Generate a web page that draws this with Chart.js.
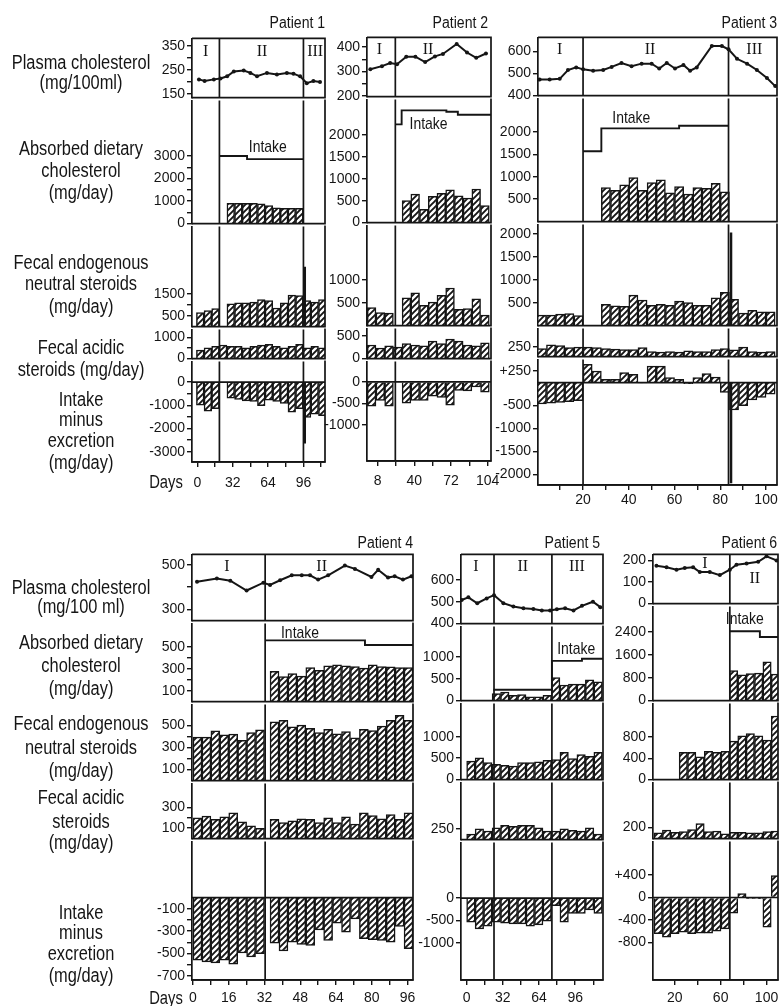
<!DOCTYPE html>
<html><head><meta charset="utf-8">
<script src="https://cdn.jsdelivr.net/npm/chart.js@4.4.1/dist/chart.umd.min.js"></script>
<style>
html,body{margin:0;padding:0;background:#fff;}
#root{position:relative;width:779px;height:1006px;overflow:hidden;background:#fff}
#root canvas{position:absolute}
.lab{position:absolute;font-family:"Liberation Sans",Arial,sans-serif;font-size:20px;line-height:20px;color:#151515;white-space:nowrap;transform:translate(-50%,-50%) scaleX(.82);}
.ttl{position:absolute;font-family:"Liberation Sans",Arial,sans-serif;font-size:16px;line-height:16px;color:#151515;white-space:nowrap;transform-origin:100% 50%;transform:translateY(-50%) scaleX(.88);}
</style></head><body><div id="root"></div>
<script>
// ================= DATA =================
// ---- Patient 1 ----
const p1Days = [2.65, 9.55, 16.45, 23.35, 30.25, 37.15, 44.05, 50.95, 57.85, 64.75, 71.65, 78.55, 85.45, 92.35, 99.25, 106.15, 113.05];
const p1Absorbed = [null, null, null, null, 900, 900, 900, 900, 880, 800, 700, 680, 680, 680, null, null, null];
const p1Neutral = [650, 740, 830, null, 1050, 1100, 1100, 1130, 1250, 1200, 860, 1100, 1460, 1430, 1200, 1130, 1250];
const p1Acidic = [400, 510, 580, 650, 580, 580, 510, 580, 640, 680, 580, 510, 580, 680, 510, 580, 510];
const p1Balance = [-1000, -1250, -1150, null, -690, -750, -810, -830, -1020, -780, -830, -920, -1300, -1150, -1520, -1380, -1450];
const p1PlasmaDays = [1.5, 6.6, 15, 21, 27, 33, 42, 48, 54, 63, 72, 81, 87, 93, 99, 105, 111];
const p1Plasma = [210, 203, 210, 214, 223, 243, 247, 237, 223, 237, 230, 237, 234, 223, 194, 203, 199];
const p1IntakeDays = [20, 45, 96];
const p1Intake = [3000, 2860, 2860];
const p1SpikeDays = [97.2, 97.2];
const p1SpikeNeutral = [0, 2770];
const p1SpikeBalance = [0, -2650];
const p1XTicks = [0, 16, 32, 48, 64, 80, 96, 112];
const p1XLabels = ['0', '', '32', '', '64', '', '96', ''];
const p1PlasmaTicks = [150, 200, 250, 300, 350], p1PlasmaLabels = ['150', '', '250', '', '350'];
const p1AbsorbedTicks = [0, 500, 1000, 1500, 2000, 2500, 3000], p1AbsorbedLabels = ['0', '', '1000', '', '2000', '', '3000'];
const p1NeutralTicks = [500, 1000, 1500], p1NeutralLabels = ['500', '', '1500'];
const p1AcidicTicks = [0, 500, 1000], p1AcidicLabels = ['0', '', '1000'];
const p1BalanceTicks = [0, -500, -1000, -1500, -2000, -2500, -3000], p1BalanceLabels = ['0', '', '-1000', '', '-2000', '', '-3000'];

// ---- Patient 2 ----
const p2Days = [2.8, 10.4, 18, 25.6, 33.2, 40.8, 48.4, 56, 63.6, 71.2, 78.8, 86.4, 94, 101.6];
const p2Absorbed = [null, null, null, null, 502, 651, 302, 600, 667, 747, 613, 562, 762, 391];
const p2Neutral = [394, 287, 272, null, 608, 715, 443, 514, 660, 822, 357, 372, 587, 229];
const p2Acidic = [300, 233, 280, 253, 333, 300, 280, 387, 333, 433, 387, 300, 280, 350];
const p2Balance = [-560, -430, -560, null, -490, -430, -430, -330, -360, -540, -200, -210, -120, -240];
const p2PlasmaDays = [1.7, 11.8, 19, 25, 33, 41, 49.5, 58, 65, 77, 86, 94, 102.5];
const p2Plasma = [309, 322, 335, 330, 361, 361, 339, 362, 372, 413, 378, 356, 374];
const p2IntakeDays = [23.5, 29, 68, 78, 106.9];
const p2Intake = [2240, 2560, 2530, 2460, 2460];
const p2XTicks = [8, 24, 40, 56, 72, 88, 104];
const p2XLabels = ['8', '', '40', '', '72', '', '104'];
const p2PlasmaTicks = [200, 250, 300, 350, 400], p2PlasmaLabels = ['200', '', '300', '', '400'];
const p2AbsorbedTicks = [0, 500, 1000, 1500, 2000], p2AbsorbedLabels = ['0', '500', '1000', '1500', '2000'];
const p2NeutralTicks = [500, 1000], p2NeutralLabels = ['500', '1000'];
const p2AcidicTicks = [0, 500], p2AcidicLabels = ['0', '500'];
const p2BalanceTicks = [0, -500, -1000], p2BalanceLabels = ['0', '-500', '-1000'];

// ---- Patient 3 ----
const p3Days = [2, 6, 10, 14, 18, 22, 26, 30, 34, 38, 42, 46, 50, 54, 58, 62, 66, 70, 74, 78, 82, 86, 90, 94, 98, 102];
const p3Absorbed = [null, null, null, null, null, null, null, 760, 700, 820, 980, 700, 870, 930, 640, 780, 615, 760, 740, 855, 665, null, null, null, null, null];
const p3Neutral = [230, 230, 250, 260, 220, null, null, 465, 430, 420, 665, 557, 443, 465, 443, 535, 500, 443, 443, 608, 728, 572, 272, 336, 300, 300];
const p3Acidic = [205, 302, 280, 227, 240, 240, 227, 205, 190, 180, 180, 227, 127, 114, 127, 114, 150, 127, 127, 180, 205, 170, 240, 127, 114, 127];
const p3Balance = [-467, -450, -430, -415, -395, 397, 253, 72, 72, 216, 180, -10, 360, 360, 108, 72, -22, 108, 194, 122, -216, -597, -503, -380, -324, -252];
const p3PlasmaDays = [1, 5.4, 9.8, 13.4, 17, 20, 24.4, 28.8, 32.5, 36.8, 41.2, 45.6, 50, 53.3, 56.6, 60.2, 63.9, 66.8, 69.7, 76.3, 80.7, 83.6, 87.3, 91.7, 96, 100.4, 104];
const p3Plasma = [473, 473, 476, 516, 528, 519, 513, 516, 530, 548, 533, 545, 545, 523, 548, 523, 539, 513, 528, 625, 625, 610, 567, 545, 516, 480, 443];
const p3IntakeDays = [20, 28, 62, 83.6];
const p3Intake = [1570, 2080, 2140, 2140];
const p3SpikeDays = [84.7, 84.7];
const p3SpikeNeutral = [0, 2035];
const p3SpikeBalance = [0, -2195];
const p3XTicks = [10, 20, 30, 40, 50, 60, 70, 80, 90, 100];
const p3XLabels = ['', '20', '', '40', '', '60', '', '80', '', '100'];
const p3PlasmaTicks = [400, 500, 600], p3PlasmaLabels = ['400', '500', '600'];
const p3AbsorbedTicks = [500, 1000, 1500, 2000], p3AbsorbedLabels = ['500', '1000', '1500', '2000'];
const p3NeutralTicks = [500, 1000, 1500, 2000], p3NeutralLabels = ['500', '1000', '1500', '2000'];
const p3AcidicTicks = [250], p3AcidicLabels = ['250'];
const p3BalanceTicks = [250, -500, -1000, -1500, -2000], p3BalanceLabels = ['+250', '-500', '-1000', '-1500', '-2000'];

// ---- Patient 4 ----
const p4Days = [2, 6, 10, 14, 18, 22, 26, 30, 36.5, 40.5, 44.5, 48.5, 52.5, 56.5, 60.5, 64.5, 68.5, 72.5, 76.5, 80.5, 84.5, 88.5, 92.5, 96.5];
const p4Absorbed = [null, null, null, null, null, null, null, null, 277, 228, 257, 233, 312, 286, 327, 336, 327, 321, 307, 336, 321, 318, 312, 312];
const p4Neutral = [396, 396, 452, 417, 423, 367, 437, 461, 534, 549, 490, 505, 476, 437, 467, 425, 446, 388, 467, 455, 496, 549, 593, 549];
const p4Acidic = [200, 216, 185, 210, 247, 160, 123, 99, 185, 154, 170, 191, 185, 154, 200, 154, 210, 139, 247, 222, 191, 231, 185, 247];
const p4Balance = [-560, -575, -584, -560, -596, -496, -531, -501, -407, -478, -398, -419, -428, -289, -383, -230, -310, -191, -368, -377, -383, -398, -259, -457];
const p4PlasmaDays = [1.8, 10.7, 16.7, 24, 31.5, 34.5, 39, 44.2, 48.7, 52.4, 56, 60.5, 68, 72.5, 79.9, 82.9, 87.3, 90.3, 94, 97.8];
const p4Plasma = [423, 438, 428, 384, 419, 409, 430, 452, 452, 452, 433, 452, 496, 481, 445, 477, 442, 448, 433, 448];
const p4IntakeDays = [32.3, 77, 98.5];
const p4Intake = [561, 518, 518];
const p4XTicks = [0, 8, 16, 24, 32, 40, 48, 56, 64, 72, 80, 88, 96];
const p4XLabels = ['0', '', '16', '', '32', '', '48', '', '64', '', '80', '', '96'];
const p4PlasmaTicks = [300, 400, 500], p4PlasmaLabels = ['300', '', '500'];
const p4AbsorbedTicks = [100, 200, 300, 400, 500], p4AbsorbedLabels = ['100', '', '300', '', '500'];
const p4NeutralTicks = [100, 200, 300, 400, 500], p4NeutralLabels = ['100', '', '300', '', '500'];
const p4AcidicTicks = [100, 200, 300], p4AcidicLabels = ['100', '', '300'];
const p4BalanceTicks = [-100, -200, -300, -400, -500, -600, -700], p4BalanceLabels = ['-100', '', '-300', '', '-500', '', '-700'];

// ---- Patient 5 ----
const p5Days = [3.75, 11.25, 18.75, 26.25, 33.75, 41.25, 48.75, 56.25, 63.75, 71.25, 78.75, 86.25, 93.75, 101.25, 108.75, 116.25];
const p5Absorbed = [null, null, null, 160, 197, 123, 138, 88, 88, 123, 526, 357, 379, 379, 474, 430];
const p5Neutral = [432, 509, 395, 357, 334, 318, 395, 395, 418, 448, 470, 636, 493, 584, 545, 636];
const p5Acidic = [125, 250, 197, 272, 329, 307, 329, 329, 272, 197, 197, 250, 211, 197, 272, 125];
const p5Balance = [-537, -683, -625, -537, -559, -573, -573, -625, -595, -515, -170, -537, -339, -339, -264, -339];
const p5PlasmaDays = [-4.4, 1.5, 9.4, 17.7, 24.2, 32.5, 41.3, 50.2, 59, 66.5, 73.8, 79.8, 87.1, 94.5, 102, 111.7, 118.2];
const p5Plasma = [508, 520, 493, 515, 530, 493, 478, 470, 467, 460, 460, 466, 470, 460, 481, 500, 475];
const p5IntakeDays = [23.6, 75.4, 102, 120.6];
const p5Intake = [250, 910, 960, 960];
const p5XTicks = [0, 16, 32, 48, 64, 80, 96, 112];
const p5XLabels = ['0', '', '32', '', '64', '', '96', ''];
const p5PlasmaTicks = [400, 500, 600], p5PlasmaLabels = ['400', '500', '600'];
const p5AbsorbedTicks = [0, 500, 1000], p5AbsorbedLabels = ['0', '500', '1000'];
const p5NeutralTicks = [0, 500, 1000], p5NeutralLabels = ['0', '500', '1000'];
const p5AcidicTicks = [250], p5AcidicLabels = ['250'];
const p5BalanceTicks = [0, -500, -1000], p5BalanceLabels = ['0', '-500', '-1000'];

// ---- Patient 6 ----
const p6Days = [5.55, 12.85, 20.15, 27.45, 34.75, 42.05, 49.35, 56.65, 63.95, 71.25, 78.55, 85.85, 93.15, 100.45, 107.75];
const p6Absorbed = [null, null, null, null, null, null, null, null, null, 1050, 900, 950, 960, 1360, 930];
const p6Neutral = [null, null, null, 511, 511, 428, 529, 511, 529, 720, 820, 860, 820, 740, 1190];
const p6Acidic = [103, 154, 114, 125, 160, 268, 125, 137, 85, 114, 114, 103, 103, 125, 137];
const p6Balance = [-648, -708, -648, -619, -648, -636, -636, -602, -560, -280, 70, -20, -20, -530, 390];
const p6PlasmaDays = [4, 12.8, 21.5, 28.7, 36, 41.8, 50.5, 59.3, 68, 73.8, 82.6, 92.7, 100, 108.7];
const p6Plasma = [175, 168, 157, 165, 168, 146, 146, 132, 157, 180, 186, 194, 219, 200];
const p6IntakeDays = [68, 94.2, 110.8];
const p6Intake = [2430, 2230, 2230];
const p6XTicks = [20, 40, 60, 80, 100];
const p6XLabels = ['20', '', '60', '', '100'];
const p6PlasmaTicks = [0, 100, 200], p6PlasmaLabels = ['0', '100', '200'];
const p6AbsorbedTicks = [0, 800, 1600, 2400], p6AbsorbedLabels = ['0', '800', '1600', '2400'];
const p6NeutralTicks = [0, 400, 800], p6NeutralLabels = ['0', '400', '800'];
const p6AcidicTicks = [200], p6AcidicLabels = ['200'];
const p6BalanceTicks = [400, 0, -400, -800], p6BalanceLabels = ['+400', '0', '-400', '-800'];

// ================= LAYOUT =================
const LW = 60, PADT = 9, PADB = 9, PADR = 16, XH = 30;
const INK = '#151515';
const FONTNAME = '"Liberation Sans", Arial, sans-serif';
const root = document.getElementById('root');

const PATIENTS = [
  { title: 'Patient 1', titleY: 23, titleR: 325, L: 192, R: 325, xMin: -4.8, xMax: 115.5, phases: [20, 96], xPad: 8,
    xTicks: p1XTicks, xLabels: p1XLabels,
    rows: { plasma: [37, 99, 134, 381], absorbed: [99, 225, 0, 5467], neutral: [225, 328, 0, 4628], acidic: [328, 360, 0, 1391], balance: [360, 462, -3447, 894] },
    yTicks: { plasma: [p1PlasmaTicks, p1PlasmaLabels], absorbed: [p1AbsorbedTicks, p1AbsorbedLabels], neutral: [p1NeutralTicks, p1NeutralLabels], acidic: [p1AcidicTicks, p1AcidicLabels], balance: [p1BalanceTicks, p1BalanceLabels] },
    roman: [['I', 7.5, 13], ['II', 58.6, 13], ['III', 106.6, 13]], intakeAt: [63.8, 3400],
    d: { days: p1Days, absorbed: p1Absorbed, neutral: p1Neutral, acidic: p1Acidic, balance: p1Balance, plasmaDays: p1PlasmaDays, plasma: p1Plasma, intakeDays: p1IntakeDays, intake: p1Intake, spikeDays: p1SpikeDays, spikeNeutral: p1SpikeNeutral, spikeBalance: p1SpikeBalance } },
  { title: 'Patient 2', titleY: 23, titleR: 488, L: 367, R: 491, xMin: -1.2, xMax: 106.9, phases: [23.5], xPad: 7,
    xTicks: p2XTicks, xLabels: p2XLabels,
    rows: { plasma: [36, 98, 197, 440], absorbed: [98, 224, 0, 2810], neutral: [224, 327, 0, 2190], acidic: [327, 360, 0, 666], balance: [360, 461, -1825, 470] },
    yTicks: { plasma: [p2PlasmaTicks, p2PlasmaLabels], absorbed: [p2AbsorbedTicks, p2AbsorbedLabels], neutral: [p2NeutralTicks, p2NeutralLabels], acidic: [p2AcidicTicks, p2AcidicLabels], balance: [p2BalanceTicks, p2BalanceLabels] },
    roman: [['I', 9.7, 12], ['II', 52, 12]], intakeAt: [52.5, 2250],
    d: { days: p2Days, absorbed: p2Absorbed, neutral: p2Neutral, acidic: p2Acidic, balance: p2Balance, plasmaDays: p2PlasmaDays, plasma: p2Plasma, intakeDays: p2IntakeDays, intake: p2Intake } },
  { title: 'Patient 3', titleY: 23, titleR: 777, L: 538, R: 777, xMin: 0.3, xMax: 104.8, phases: [20, 83.6], xPad: 2,
    xTicks: p3XTicks, xLabels: p3XLabels,
    rows: { plasma: [36, 97, 400, 664], absorbed: [97, 223, 0, 2750], neutral: [223, 327, 0, 2210], acidic: [327, 358, 0, 718], balance: [358, 485, -2231, 505] },
    yTicks: { plasma: [p3PlasmaTicks, p3PlasmaLabels], absorbed: [p3AbsorbedTicks, p3AbsorbedLabels], neutral: [p3NeutralTicks, p3NeutralLabels], acidic: [p3AcidicTicks, p3AcidicLabels], balance: [p3BalanceTicks, p3BalanceLabels] },
    roman: [['I', 9.8, 12], ['II', 49.3, 12], ['III', 94.9, 12]], intakeAt: [41.1, 2310],
    d: { days: p3Days, absorbed: p3Absorbed, neutral: p3Neutral, acidic: p3Acidic, balance: p3Balance, plasmaDays: p3PlasmaDays, plasma: p3Plasma, intakeDays: p3IntakeDays, intake: p3Intake, spikeDays: p3SpikeDays, spikeNeutral: p3SpikeNeutral, spikeBalance: p3SpikeBalance } },
  { title: 'Patient 4', titleY: 543, titleR: 413, L: 192, R: 413, xMin: -0.45, xMax: 98.5, phases: [32.3], xPad: 5,
    xTicks: p4XTicks, xLabels: p4XLabels,
    rows: { plasma: [553, 622, 249, 546], absorbed: [622, 703, 0, 716], neutral: [703, 782, 0, 693], acidic: [782, 840, 0, 530], balance: [840, 980, -737, 502] },
    yTicks: { plasma: [p4PlasmaTicks, p4PlasmaLabels], absorbed: [p4AbsorbedTicks, p4AbsorbedLabels], neutral: [p4NeutralTicks, p4NeutralLabels], acidic: [p4AcidicTicks, p4AcidicLabels], balance: [p4BalanceTicks, p4BalanceLabels] },
    roman: [['I', 15.2, 12], ['II', 57.6, 12]], intakeAt: [47.9, 628],
    d: { days: p4Days, absorbed: p4Absorbed, neutral: p4Neutral, acidic: p4Acidic, balance: p4Balance, plasmaDays: p4PlasmaDays, plasma: p4Plasma, intakeDays: p4IntakeDays, intake: p4Intake } },
  { title: 'Patient 5', titleY: 543, titleR: 600, L: 461, R: 603, xMin: -5, xMax: 120.6, phases: [24.2, 75.4], xPad: 5,
    xTicks: p5XTicks, xLabels: p5XLabels,
    rows: { plasma: [553, 625, 400, 716], absorbed: [625, 702, 0, 1700], neutral: [702, 781, 0, 1780], acidic: [781, 841, 0, 1316], balance: [841, 980, -1822, 1240] },
    yTicks: { plasma: [p5PlasmaTicks, p5PlasmaLabels], absorbed: [p5AbsorbedTicks, p5AbsorbedLabels], neutral: [p5NeutralTicks, p5NeutralLabels], acidic: [p5AcidicTicks, p5AcidicLabels], balance: [p5BalanceTicks, p5BalanceLabels] },
    roman: [['I', 8.2, 12], ['II', 49.6, 12], ['III', 97.5, 12]], intakeAt: [96.9, 1184],
    d: { days: p5Days, absorbed: p5Absorbed, neutral: p5Neutral, acidic: p5Acidic, balance: p5Balance, plasmaDays: p5PlasmaDays, plasma: p5Plasma, intakeDays: p5IntakeDays, intake: p5Intake } },
  { title: 'Patient 6', titleY: 543, titleR: 777, L: 653, R: 778, xMin: 1, xMax: 110, phases: [68], xPad: 5,
    xTicks: p6XTicks, xLabels: p6XLabels,
    rows: { plasma: [553, 605, 0, 228], absorbed: [605, 702, 0, 3300], neutral: [702, 781, 0, 1426], acidic: [781, 840, 0, 1009], balance: [840, 980, -1474, 1003] },
    yTicks: { plasma: [p6PlasmaTicks, p6PlasmaLabels], absorbed: [p6AbsorbedTicks, p6AbsorbedLabels], neutral: [p6NeutralTicks, p6NeutralLabels], acidic: [p6AcidicTicks, p6AcidicLabels], balance: [p6BalanceTicks, p6BalanceLabels] },
    roman: [['I', 46.2, 9], ['II', 89.8, 24]], intakeAt: [81, 2842],
    d: { days: p6Days, absorbed: p6Absorbed, neutral: p6Neutral, acidic: p6Acidic, balance: p6Balance, plasmaDays: p6PlasmaDays, plasma: p6Plasma, intakeDays: p6IntakeDays, intake: p6Intake } }
];

const ROW_LABELS = [
  ['Plasma cholesterol', 62], ['(mg/100ml)', 82],
  ['Absorbed dietary', 148], ['cholesterol', 170], ['(mg/day)', 192],
  ['Fecal endogenous', 262], ['neutral steroids', 283], ['(mg/day)', 306],
  ['Fecal acidic', 347], ['steroids (mg/day)', 369],
  ['Intake', 399], ['minus', 419], ['excretion', 440], ['(mg/day)', 462],
  ['Plasma cholesterol', 587], ['(mg/100 ml)', 606],
  ['Absorbed dietary', 642], ['cholesterol', 665], ['(mg/day)', 688],
  ['Fecal endogenous', 723], ['neutral steroids', 747], ['(mg/day)', 770],
  ['Fecal acidic', 797], ['steroids', 821], ['(mg/day)', 842],
  ['Intake', 912], ['minus', 932], ['excretion', 953], ['(mg/day)', 975]
];

// ================= DRAWING =================
function makeHatch() {
  const s = 6;
  const c = document.createElement('canvas'); c.width = s; c.height = s;
  const g = c.getContext('2d');
  g.fillStyle = '#fff'; g.fillRect(0, 0, s, s);
  g.strokeStyle = INK; g.lineWidth = 1.9;
  g.beginPath();
  g.moveTo(0, s); g.lineTo(s, 0);
  g.moveTo(-s / 2, s / 2); g.lineTo(s / 2, -s / 2);
  g.moveTo(s / 2, s * 1.5); g.lineTo(s * 1.5, s / 2);
  g.stroke();
  return g.createPattern(c, 'repeat');
}
const HATCH = makeHatch();

function series(days, vals) {
  const out = [];
  days.forEach((d, i) => { if (vals[i] !== null && vals[i] !== undefined) out.push({ x: d, y: vals[i] }); });
  return out;
}
function barDS(days, vals) {
  return { type: 'bar', order: 2, data: series(days, vals), backgroundColor: HATCH, borderColor: INK, borderWidth: 1.5,
    borderSkipped: 'start', barPercentage: 1, categoryPercentage: 1 };
}
function lineDS(days, vals, opt) {
  return Object.assign({ type: 'line', order: 1, data: series(days, vals), borderColor: INK, borderWidth: 1.9,
    pointRadius: 0, tension: 0, fill: false }, opt || {});
}

function framePlugin(cfg) {
  return {
    id: 'frame',
    afterDraw(chart) {
      const { ctx, chartArea: a } = chart;
      const x = chart.scales.x, y = chart.scales.y;
      ctx.save();
      ctx.strokeStyle = INK; ctx.lineWidth = 1.7;
      ctx.beginPath();
      ctx.moveTo(a.right, a.top - 0.85); ctx.lineTo(a.right, a.bottom + 0.85);
      ctx.moveTo(a.left, a.bottom); ctx.lineTo(a.right, a.bottom);
      if (cfg.top) { ctx.moveTo(a.left, a.top); ctx.lineTo(a.right, a.top); }
      if (cfg.zero) { const z = y.getPixelForValue(0); ctx.moveTo(a.left, z); ctx.lineTo(a.right, z); }
      cfg.phases.forEach(d => { const px = x.getPixelForValue(d); ctx.moveTo(px, a.top); ctx.lineTo(px, a.bottom); });
      ctx.stroke();
      ctx.fillStyle = INK;
      ctx.textAlign = 'center'; ctx.textBaseline = 'middle';
      if (cfg.roman) {
        ctx.font = '16px "Liberation Serif", "DejaVu Serif", serif';
        cfg.roman.forEach(r => ctx.fillText(r[0], x.getPixelForValue(r[1]), a.top + r[2]));
      }
      if (cfg.intake) {
        const px = x.getPixelForValue(cfg.intake[0]), py = y.getPixelForValue(cfg.intake[1]);
        ctx.translate(px, py); ctx.scale(0.82, 1);
        ctx.font = '17px ' + FONTNAME;
        ctx.fillText('Intake', 0, 0);
      }
      ctx.restore();
    }
  };
}

function makePanel(p, row, datasets) {
  const [T, B, ymin, ymax] = p.rows[row];
  const bottom = row === 'balance';
  const W = LW + (p.R - p.L) + PADR;
  const H = (B - T) + PADT + (bottom ? XH : PADB);
  const cv = document.createElement('canvas');
  cv.width = W; cv.height = H;
  cv.style.left = (p.L - LW) + 'px'; cv.style.top = (T - PADT) + 'px';
  cv.style.width = W + 'px'; cv.style.height = H + 'px';
  root.appendChild(cv);
  const yt = p.yTicks[row][0], yl = p.yTicks[row][1];
  const font = { family: FONTNAME, size: 14 };
  new Chart(cv, {
    type: 'bar',
    data: { datasets },
    options: {
      responsive: false, maintainAspectRatio: false, animation: false, events: [],
      layout: { padding: { left: 0, right: PADR, top: PADT, bottom: bottom ? 0 : PADB } },
      plugins: { legend: { display: false }, tooltip: { enabled: false } },
      scales: {
        x: {
          type: 'linear', min: p.xMin, max: p.xMax, offset: false, display: bottom,
          grid: { display: true, drawOnChartArea: false, drawTicks: true, tickLength: 5, color: INK, lineWidth: 1.4, offset: false },
          border: { display: true, color: INK, width: 1.7 },
          ticks: { autoSkip: false, maxRotation: 0, minRotation: 0, padding: p.xPad, color: INK, font,
            callback: (v, i) => (bottom ? p.xLabels[i] : '') },
          afterBuildTicks: s => { s.ticks = bottom ? p.xTicks.map(v => ({ value: v })) : [{ value: p.xMin }, { value: p.xMax }]; },
          afterFit: s => { if (bottom) s.height = XH; }
        },
        y: {
          type: 'linear', position: 'left', min: ymin, max: ymax,
          grid: { display: true, drawOnChartArea: false, drawTicks: true, tickLength: 5, color: INK, lineWidth: 1.4 },
          border: { display: true, color: INK, width: 1.7 },
          ticks: { autoSkip: false, padding: 2, color: INK, font, callback: (v, i) => yl[i] },
          afterBuildTicks: s => { s.ticks = yt.map(v => ({ value: v })); },
          afterFit: s => { s.width = LW; }
        }
      }
    },
    plugins: [framePlugin({ top: row === 'plasma', zero: bottom, phases: p.phases,
      roman: row === 'plasma' ? p.roman : null, intake: row === 'absorbed' ? p.intakeAt : null })]
  });
}

PATIENTS.forEach(p => {
  const d = p.d;
  ['plasma', 'absorbed', 'neutral', 'acidic', 'balance'].forEach(row => {
    const ds = [];
    if (row === 'plasma') {
      ds.push(lineDS(d.plasmaDays, d.plasma, { borderWidth: 2, pointRadius: 2, pointBackgroundColor: INK, pointBorderWidth: 0 }));
    } else {
      ds.push(barDS(d.days, d[row]));
      if (row === 'absorbed') ds.push(lineDS(d.intakeDays, d.intake, { stepped: true }));
      if (row === 'neutral' && d.spikeDays) ds.push(lineDS(d.spikeDays, d.spikeNeutral, { borderWidth: 2.5 }));
      if (row === 'balance' && d.spikeDays) ds.push(lineDS(d.spikeDays, d.spikeBalance, { borderWidth: 2.5 }));
    }
    makePanel(p, row, ds);
  });
  const t = document.createElement('div');
  t.className = 'ttl'; t.textContent = p.title;
  t.style.right = (779 - p.titleR) + 'px'; t.style.top = p.titleY + 'px';
  root.appendChild(t);
});

ROW_LABELS.forEach(([txt, yc]) => {
  const e = document.createElement('div');
  e.className = 'lab'; e.textContent = txt;
  e.style.left = '81px'; e.style.top = yc + 'px';
  root.appendChild(e);
});
[482, 998].forEach(yc => {
  const e = document.createElement('div');
  e.className = 'lab'; e.textContent = 'Days';
  e.style.left = '166px'; e.style.top = yc + 'px'; e.style.fontSize = '18px';
  root.appendChild(e);
});
</script></body></html>
